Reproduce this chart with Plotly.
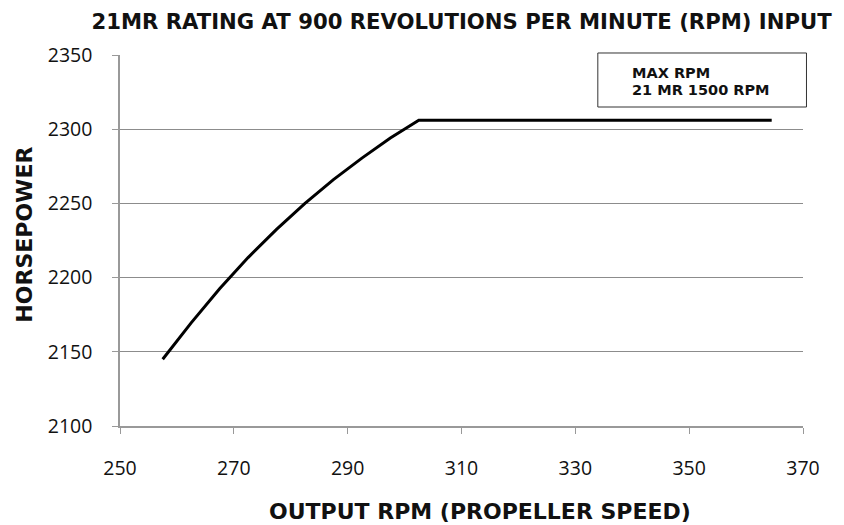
import plotly.graph_objects as go

# output rpm vs horsepower
output_rpm = [257.5, 262.5, 267.5, 272.5, 277.5, 282.5, 287.5, 292.5, 297.5, 302.5, 364.5]
horsepower = [2145.0, 2169.5, 2192.5, 2213.5, 2232.5, 2250.0, 2266.0, 2280.5, 2294.0, 2306.0, 2306.0]

x_ticks = [250, 270, 290, 310, 330, 350, 370]
y_ticks = [2100, 2150, 2200, 2250, 2300, 2350]

legend_lines = ["MAX RPM", "21 MR 1500 RPM"]

title_font = dict(family="DejaVu Sans", size=21.2, color="#111111", weight="bold")
axis_title_font = dict(family="DejaVu Sans", size=22, color="#111111", weight="bold")
tick_font = dict(family="Open Sans", size=19.5, color="#111111")

fig = go.Figure()

fig.add_trace(go.Scatter(
    x=output_rpm,
    y=horsepower,
    mode="lines",
    line=dict(color="#000000", width=3),
    showlegend=False,
    hoverinfo="x+y",
))

fig.update_xaxes(
    range=[250, 370],
    tickvals=x_ticks,
    ticks="outside",
    ticklen=6,
    tickcolor="#999999",
    showline=True,
    linecolor="#999999",
    linewidth=1.5,
    showgrid=False,
    zeroline=False,
    tickfont=tick_font,
    ticklabelstandoff=18,
)

fig.update_yaxes(
    range=[2100, 2350],
    tickvals=y_ticks,
    ticks="outside",
    ticklen=6,
    tickcolor="#999999",
    showline=True,
    linecolor="#999999",
    linewidth=1.5,
    showgrid=True,
    gridcolor="#8c8c8c",
    gridwidth=1,
    zeroline=False,
    tickfont=tick_font,
    ticklabelstandoff=16,
)

# axis titles as annotations (the x title sits a bit right of centre)
fig.add_annotation(
    xref="paper", yref="paper", x=0.527, y=-0.2318,
    xanchor="center", yanchor="middle",
    text="OUTPUT RPM (PROPELLER SPEED)", showarrow=False,
    font=axis_title_font,
)
fig.add_annotation(
    xref="paper", yref="paper", x=-0.1411, y=0.5148,
    xanchor="center", yanchor="middle", textangle=-90,
    text="HORSEPOWER", showarrow=False,
    font=axis_title_font,
)

# boxed note in the top right corner
fig.add_shape(
    type="rect", xref="paper", yref="paper",
    x0=0.6996, x1=1.0051, y0=0.8598, y1=1.0054,
    line=dict(color="#333333", width=1),
    fillcolor="white",
)
for line_text, ypos in zip(legend_lines, [0.9515, 0.9057]):
    fig.add_annotation(
        xref="paper", yref="paper",
        x=0.7463, y=ypos,
        xanchor="left", yanchor="middle",
        text=line_text,
        align="left",
        showarrow=False,
        font=dict(family="DejaVu Sans", size=14.5, color="#111111", weight="bold"),
    )

# the page body adds an 8px offset, so the figure is 8px smaller
fig.update_layout(
    width=836,
    height=517,
    margin=dict(l=111.5, r=40.5, t=47, b=99),
    paper_bgcolor="white",
    plot_bgcolor="white",
    title=dict(
        text="21MR RATING AT 900 REVOLUTIONS PER MINUTE (RPM) INPUT",
        font=title_font,
        x=0.5425, xanchor="center",
        y=0.974, yanchor="middle",
    ),
)

fig.write_html("out.html")
